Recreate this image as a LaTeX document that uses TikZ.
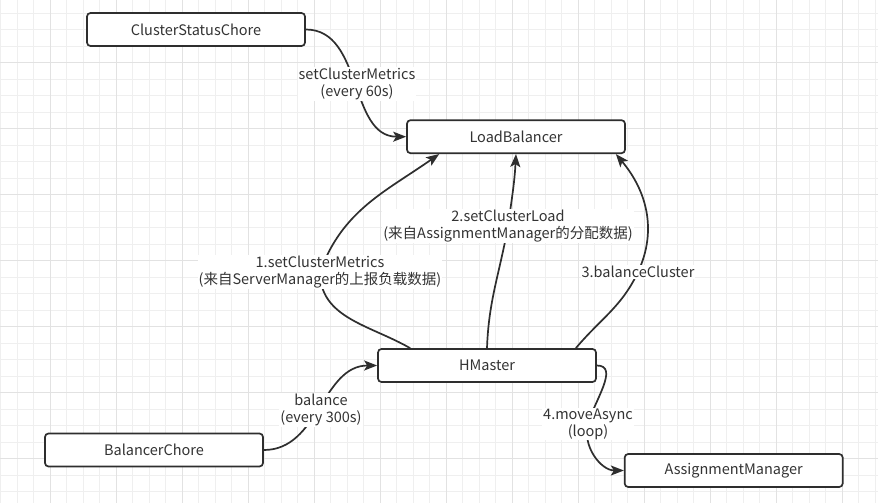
\documentclass[tikz,border=0pt]{standalone}
\usepackage{fontspec}
\setmainfont{Noto Sans CJK SC}
\usetikzlibrary{arrows.meta}
\definecolor{ln}{HTML}{2E2E2E}
\definecolor{tx}{HTML}{333333}
\definecolor{gmin}{HTML}{EFEFEF}
\definecolor{gmaj}{HTML}{E2E2E2}
\begin{document}
\begin{tikzpicture}[x=1pt,y=1pt,
  box/.style={draw=ln, line width=1.7pt, rounded corners=3.5pt, minimum width=218pt, minimum height=33pt, inner sep=0pt, fill=white, text=tx, font=\fontsize{14.5}{17}\selectfont},
  lbl/.style={fill=white, text=tx, align=center, inner sep=1pt, font=\fontsize{14.5}{17}\selectfont},
  conn/.style={draw=ln, line width=1.7pt, -{Stealth[length=13pt,width=10pt,inset=3pt]}}]
\useasboundingbox (0,0) rectangle (878,-503);
\fill[white] (0,0) rectangle (878,-503);
% grid
\foreach \i in {0,...,53} \draw[gmin, line width=1pt] ({0.8+16.5*\i},0) -- ++(0,-503);
\foreach \i in {0,...,29} \draw[gmin, line width=1pt] (0,{-13.2-16.5*\i}) -- ++(878,0);
\foreach \i in {0,...,12} \draw[gmaj, line width=1pt] ({50.3+66*\i},0) -- ++(0,-503);
\foreach \i in {0,...,6} \draw[gmaj, line width=1pt] (0,{-62.7-66*\i}) -- ++(878,0);
% nodes
\node[box] (csc) at (196,-29.5) {ClusterStatusChore};
\node[box] (lb) at (516,-136.7) {LoadBalancer};
\node[box] (hm) at (487,-365.5) {HMaster};
\node[box] (bc) at (154,-450) {BalancerChore};
\node[box] (am) at (733.7,-470.5) {AssignmentManager};
% label positions
\coordinate (c1) at (357,-84);
\coordinate (c2) at (320,-272);
\coordinate (c3) at (508,-226);
\coordinate (c4) at (638,-272);
\coordinate (c5) at (321,-410);
\coordinate (c6) at (588,-424);
% connectors
\draw[conn] (csc.east) to[out=0,in=180] (lb.west);
\draw[conn] ([xshift=33pt]hm.north west) to[out=150,in=-90] (c2) to[out=70,in=-145] ([xshift=33pt]lb.south west);
\draw[conn] (hm.north) to[out=88,in=-100] (c3) to[out=82,in=-93] (lb.south);
\draw[conn] ([xshift=-21pt]hm.north east) to[out=50,in=-115] (c4) to[out=65,in=-50] ([xshift=-10pt]lb.south east);
\draw[conn] (bc.east) to[out=0,in=180] (hm.west);
\draw[conn] (hm.east) to[out=0,in=75] (c6) to[out=-105,in=180] (am.west);
% labels
\node[lbl] (l1) at (c1) {setClusterMetrics\\(every 60s)};
\node[lbl] (l2) at (c2) {1.setClusterMetrics\\(来自ServerManager的上报负载数据)};
\node[lbl] (l3) at (c3) {2.setClusterLoad\\(来自AssignmentManager的分配数据)};
\node[lbl] (l4) at (c4) {3.balanceCluster};
\node[lbl] (l5) at (c5) {balance\\(every 300s)};
\node[lbl] (l6) at (c6) {4.moveAsync\\(loop)};
\end{tikzpicture}
\end{document}
